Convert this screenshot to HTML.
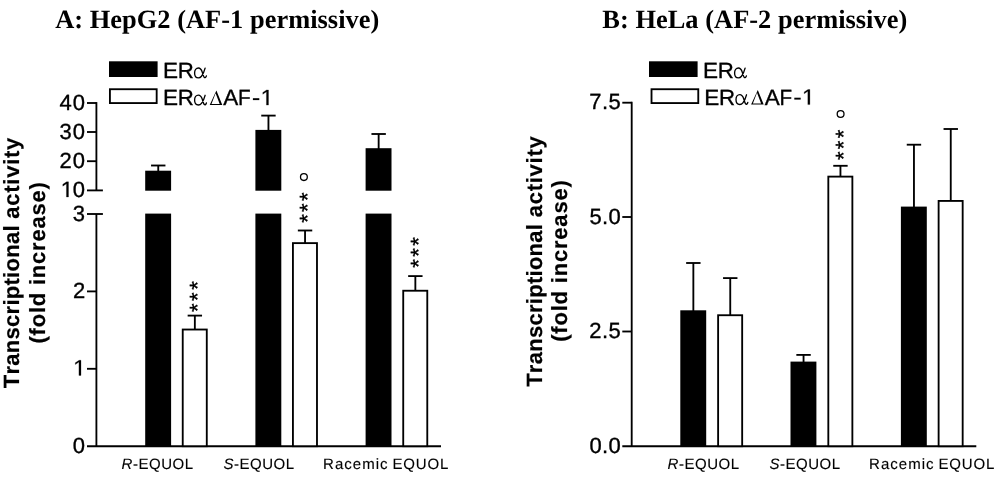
<!DOCTYPE html>
<html><head><meta charset="utf-8"><title>Transcriptional activity of equol enantiomers</title>
<style>
html,body{margin:0;padding:0;background:#fff;}
body{width:1000px;height:478px;overflow:hidden;font-family:"Liberation Sans",sans-serif;}
svg{display:block;will-change:transform;filter:grayscale(1);}
text{fill:#000;font-kerning:none;font-variant-ligatures:none;text-rendering:geometricPrecision;}
</style></head>
<body>
<svg width="1000" height="478" viewBox="0 0 1000 478">
<rect x="0" y="0" width="1000" height="478" fill="#fff"/>
<text x="55.14" y="27.50" font-size="26.4" letter-spacing="0.039"><tspan font-family='"Liberation Serif", serif' font-weight="bold" font-style="normal">A: HepG2 (AF-1 permissive)</tspan></text>
<rect x="109.00" y="61.30" width="48.60" height="15.70" fill="#000"/>
<rect x="109.92" y="89.22" width="46.75" height="13.85" fill="#fff" stroke="#000" stroke-width="1.85"/>
<text transform="translate(162.95,78.00) scale(1.0232,1.0)" font-size="22"><tspan font-family='"Liberation Sans", sans-serif' font-weight="normal" font-style="normal" stroke="#000" stroke-width="0.35">E</tspan></text>
<text transform="translate(177.68,78.00) scale(1.0105,1.0)" font-size="22"><tspan font-family='"Liberation Sans", sans-serif' font-weight="normal" font-style="normal" stroke="#000" stroke-width="0.35">R</tspan></text>
<path transform="translate(164.80,78.00)" d="M40.3,-9.8 C39.5,-6.8 38.2,-3.5 36.7,-1.7 C35.6,-0.4 34.5,-0.1 33.6,-0.1 C31.2,-0.1 29.8,-2.3 29.8,-5.1 C29.8,-7.9 31.4,-10.0 33.6,-10.0 C35.5,-10.0 36.6,-8.5 37.5,-5.8 C38.2,-3.5 38.7,-1.4 39.5,-0.6 C40.2,0.0 41.1,-0.4 41.6,-2.1" fill="none" stroke="#000" stroke-width="1.35" stroke-linecap="round" stroke-linejoin="round"/>
<text transform="translate(162.95,105.10) scale(1.0232,1.0)" font-size="22"><tspan font-family='"Liberation Sans", sans-serif' font-weight="normal" font-style="normal" stroke="#000" stroke-width="0.35">E</tspan></text>
<text transform="translate(177.68,105.10) scale(1.0105,1.0)" font-size="22"><tspan font-family='"Liberation Sans", sans-serif' font-weight="normal" font-style="normal" stroke="#000" stroke-width="0.35">R</tspan></text>
<path transform="translate(164.80,105.10)" d="M40.3,-9.8 C39.5,-6.8 38.2,-3.5 36.7,-1.7 C35.6,-0.4 34.5,-0.1 33.6,-0.1 C31.2,-0.1 29.8,-2.3 29.8,-5.1 C29.8,-7.9 31.4,-10.0 33.6,-10.0 C35.5,-10.0 36.6,-8.5 37.5,-5.8 C38.2,-3.5 38.7,-1.4 39.5,-0.6 C40.2,0.0 41.1,-0.4 41.6,-2.1" fill="none" stroke="#000" stroke-width="1.35" stroke-linecap="round" stroke-linejoin="round"/>
<path d="M209.70,105.10 L216.40,90.50 L222.30,105.10 Z M211.50,104.00 L219.70,104.00 L215.60,93.20 Z" fill="#000" fill-rule="evenodd"/>
<text transform="translate(223.36,105.10) scale(1.0214,1.0)" font-size="22"><tspan font-family='"Liberation Sans", sans-serif' font-weight="normal" font-style="normal" stroke="#000" stroke-width="0.35">A</tspan></text>
<text transform="translate(238.10,105.10) scale(0.9393,1.0)" font-size="22"><tspan font-family='"Liberation Sans", sans-serif' font-weight="normal" font-style="normal" stroke="#000" stroke-width="0.35">F</tspan></text>
<rect x="252.90" y="98.20" width="6.40" height="1.90" fill="#000"/>
<path transform="translate(260.57,105.10) scale(0.01139,-0.01074)" d="M515,0 L515,1237 L197,1010 L197,1180 L530,1409 L696,1409 L696,0 Z" fill="#000" stroke="#000" stroke-width="0.25" vector-effect="non-scaling-stroke"/>
<line x1="96.40" y1="102.08" x2="96.40" y2="190.40" stroke="#000" stroke-width="1.85"/>
<line x1="87.00" y1="103.00" x2="96.40" y2="103.00" stroke="#000" stroke-width="1.85"/>
<text x="59.49" y="109.60" font-size="22" letter-spacing="1.000"><tspan font-family='"Liberation Sans", sans-serif' font-weight="normal" font-style="normal" stroke="#000" stroke-width="0.35">40</tspan></text>
<line x1="87.00" y1="132.00" x2="96.40" y2="132.00" stroke="#000" stroke-width="1.85"/>
<text x="59.49" y="138.60" font-size="22" letter-spacing="1.000"><tspan font-family='"Liberation Sans", sans-serif' font-weight="normal" font-style="normal" stroke="#000" stroke-width="0.35">30</tspan></text>
<line x1="87.00" y1="161.20" x2="96.40" y2="161.20" stroke="#000" stroke-width="1.85"/>
<text x="59.49" y="167.80" font-size="22" letter-spacing="1.000"><tspan font-family='"Liberation Sans", sans-serif' font-weight="normal" font-style="normal" stroke="#000" stroke-width="0.35">20</tspan></text>
<line x1="87.00" y1="190.40" x2="102.90" y2="190.40" stroke="#000" stroke-width="1.85"/>
<path transform="translate(60.57,197.00) scale(0.01139,-0.01074)" d="M515,0 L515,1237 L197,1010 L197,1180 L530,1409 L696,1409 L696,0 Z" fill="#000" stroke="#000" stroke-width="0.25" vector-effect="non-scaling-stroke"/>
<text x="72.72" y="197.00" font-size="22" letter-spacing="1.000"><tspan font-family='"Liberation Sans", sans-serif' font-weight="normal" font-style="normal" stroke="#000" stroke-width="0.35">0</tspan></text>
<line x1="96.40" y1="214.00" x2="96.40" y2="446.20" stroke="#000" stroke-width="1.85"/>
<line x1="87.00" y1="214.00" x2="102.90" y2="214.00" stroke="#000" stroke-width="1.85"/>
<text x="72.83" y="220.60" font-size="22" letter-spacing="1.000"><tspan font-family='"Liberation Sans", sans-serif' font-weight="normal" font-style="normal" stroke="#000" stroke-width="0.35">3</tspan></text>
<line x1="87.00" y1="291.40" x2="96.40" y2="291.40" stroke="#000" stroke-width="1.85"/>
<text x="72.97" y="298.00" font-size="22" letter-spacing="1.000"><tspan font-family='"Liberation Sans", sans-serif' font-weight="normal" font-style="normal" stroke="#000" stroke-width="0.35">2</tspan></text>
<line x1="87.00" y1="368.80" x2="96.40" y2="368.80" stroke="#000" stroke-width="1.85"/>
<path transform="translate(73.07,375.40) scale(0.01139,-0.01074)" d="M515,0 L515,1237 L197,1010 L197,1180 L530,1409 L696,1409 L696,0 Z" fill="#000" stroke="#000" stroke-width="0.25" vector-effect="non-scaling-stroke"/>
<text x="72.72" y="452.80" font-size="22" letter-spacing="1.000"><tspan font-family='"Liberation Sans", sans-serif' font-weight="normal" font-style="normal" stroke="#000" stroke-width="0.35">0</tspan></text>
<line x1="87.00" y1="446.20" x2="441.00" y2="446.20" stroke="#000" stroke-width="1.85"/>
<line x1="158.25" y1="165.50" x2="158.25" y2="171.70" stroke="#000" stroke-width="1.85"/>
<line x1="151.05" y1="165.50" x2="165.45" y2="165.50" stroke="#000" stroke-width="1.85"/>
<rect x="145.20" y="170.70" width="25.90" height="20.00" fill="#000"/>
<rect x="145.20" y="213.60" width="25.90" height="232.60" fill="#000"/>
<line x1="268.45" y1="115.60" x2="268.45" y2="130.90" stroke="#000" stroke-width="1.85"/>
<line x1="261.25" y1="115.60" x2="275.65" y2="115.60" stroke="#000" stroke-width="1.85"/>
<rect x="255.40" y="129.90" width="25.90" height="60.80" fill="#000"/>
<rect x="255.40" y="213.60" width="25.90" height="232.60" fill="#000"/>
<line x1="378.65" y1="134.00" x2="378.65" y2="149.20" stroke="#000" stroke-width="1.85"/>
<line x1="371.45" y1="134.00" x2="385.85" y2="134.00" stroke="#000" stroke-width="1.85"/>
<rect x="365.60" y="148.20" width="25.90" height="42.50" fill="#000"/>
<rect x="365.60" y="213.60" width="25.90" height="232.60" fill="#000"/>
<line x1="194.85" y1="315.60" x2="194.85" y2="329.60" stroke="#000" stroke-width="1.85"/>
<line x1="187.65" y1="315.60" x2="202.05" y2="315.60" stroke="#000" stroke-width="1.85"/>
<rect x="182.73" y="329.53" width="24.05" height="116.67" fill="#fff" stroke="#000" stroke-width="1.85"/>
<line x1="305.05" y1="230.50" x2="305.05" y2="243.20" stroke="#000" stroke-width="1.85"/>
<line x1="297.85" y1="230.50" x2="312.25" y2="230.50" stroke="#000" stroke-width="1.85"/>
<rect x="292.93" y="243.12" width="24.05" height="203.08" fill="#fff" stroke="#000" stroke-width="1.85"/>
<line x1="415.35" y1="276.10" x2="415.35" y2="290.80" stroke="#000" stroke-width="1.85"/>
<line x1="408.15" y1="276.10" x2="422.55" y2="276.10" stroke="#000" stroke-width="1.85"/>
<rect x="403.23" y="290.73" width="24.05" height="155.47" fill="#fff" stroke="#000" stroke-width="1.85"/>
<text transform="translate(194.00,285.40) rotate(-90)" x="-4.29" y="11.27" font-size="22"><tspan font-family='"Liberation Sans", sans-serif' font-weight="normal" font-style="normal" stroke="#000" stroke-width="0.35">*</tspan></text>
<text transform="translate(194.00,296.60) rotate(-90)" x="-4.29" y="11.27" font-size="22"><tspan font-family='"Liberation Sans", sans-serif' font-weight="normal" font-style="normal" stroke="#000" stroke-width="0.35">*</tspan></text>
<text transform="translate(194.00,307.80) rotate(-90)" x="-4.29" y="11.27" font-size="22"><tspan font-family='"Liberation Sans", sans-serif' font-weight="normal" font-style="normal" stroke="#000" stroke-width="0.35">*</tspan></text>
<text transform="translate(303.40,196.70) rotate(-90)" x="-4.29" y="11.27" font-size="22"><tspan font-family='"Liberation Sans", sans-serif' font-weight="normal" font-style="normal" stroke="#000" stroke-width="0.35">*</tspan></text>
<text transform="translate(303.40,207.70) rotate(-90)" x="-4.29" y="11.27" font-size="22"><tspan font-family='"Liberation Sans", sans-serif' font-weight="normal" font-style="normal" stroke="#000" stroke-width="0.35">*</tspan></text>
<text transform="translate(303.40,218.50) rotate(-90)" x="-4.29" y="11.27" font-size="22"><tspan font-family='"Liberation Sans", sans-serif' font-weight="normal" font-style="normal" stroke="#000" stroke-width="0.35">*</tspan></text>
<text transform="translate(414.40,241.40) rotate(-90)" x="-4.29" y="11.27" font-size="22"><tspan font-family='"Liberation Sans", sans-serif' font-weight="normal" font-style="normal" stroke="#000" stroke-width="0.35">*</tspan></text>
<text transform="translate(414.40,252.50) rotate(-90)" x="-4.29" y="11.27" font-size="22"><tspan font-family='"Liberation Sans", sans-serif' font-weight="normal" font-style="normal" stroke="#000" stroke-width="0.35">*</tspan></text>
<text transform="translate(414.40,263.40) rotate(-90)" x="-4.29" y="11.27" font-size="22"><tspan font-family='"Liberation Sans", sans-serif' font-weight="normal" font-style="normal" stroke="#000" stroke-width="0.35">*</tspan></text>
<circle cx="303.9" cy="177.1" r="3.4" fill="none" stroke="#000" stroke-width="1.3"/>
<text x="121.54" y="469.10" font-size="15" letter-spacing="0.536"><tspan font-family='"Liberation Sans", sans-serif' font-weight="normal" font-style="italic" stroke="#000" stroke-width="0.12">R</tspan><tspan font-family='"Liberation Sans", sans-serif' font-weight="normal" font-style="normal" stroke="#000" stroke-width="0.12">-EQUOL</tspan></text>
<text x="223.48" y="469.10" font-size="15" letter-spacing="0.518"><tspan font-family='"Liberation Sans", sans-serif' font-weight="normal" font-style="italic" stroke="#000" stroke-width="0.12">S</tspan><tspan font-family='"Liberation Sans", sans-serif' font-weight="normal" font-style="normal" stroke="#000" stroke-width="0.12">-EQUOL</tspan></text>
<text x="323.07" y="469.10" font-size="15" letter-spacing="1.030"><tspan font-family='"Liberation Sans", sans-serif' font-weight="normal" font-style="normal" stroke="#000" stroke-width="0.12">Racemic</tspan></text>
<text x="392.47" y="469.10" font-size="15" letter-spacing="0.853"><tspan font-family='"Liberation Sans", sans-serif' font-weight="normal" font-style="normal" stroke="#000" stroke-width="0.12">EQUOL</tspan></text>
<text transform="translate(19.30,388.25) rotate(-90)" font-size="22" letter-spacing="0.277"><tspan font-family='"Liberation Sans", sans-serif' font-weight="bold" font-style="normal" stroke="#000" stroke-width="0.2">Transcriptional</tspan></text>
<text transform="translate(19.30,218.74) rotate(-90)" font-size="22" letter-spacing="0.749"><tspan font-family='"Liberation Sans", sans-serif' font-weight="bold" font-style="normal" stroke="#000" stroke-width="0.2">activity</tspan></text>
<text transform="translate(44.60,343.50) rotate(-90)" font-size="22" letter-spacing="0.780"><tspan font-family='"Liberation Sans", sans-serif' font-weight="bold" font-style="normal" stroke="#000" stroke-width="0.2">(fold increase)</tspan></text>
<text x="602.36" y="27.50" font-size="26.4" letter-spacing="0.030"><tspan font-family='"Liberation Serif", serif' font-weight="bold" font-style="normal">B: HeLa (AF-2 permissive)</tspan></text>
<rect x="649.00" y="61.30" width="48.60" height="15.70" fill="#000"/>
<rect x="651.52" y="89.22" width="46.75" height="13.85" fill="#fff" stroke="#000" stroke-width="1.85"/>
<text transform="translate(702.95,78.00) scale(1.0232,1.0)" font-size="22"><tspan font-family='"Liberation Sans", sans-serif' font-weight="normal" font-style="normal" stroke="#000" stroke-width="0.35">E</tspan></text>
<text transform="translate(717.68,78.00) scale(1.0105,1.0)" font-size="22"><tspan font-family='"Liberation Sans", sans-serif' font-weight="normal" font-style="normal" stroke="#000" stroke-width="0.35">R</tspan></text>
<path transform="translate(704.80,78.00)" d="M40.3,-9.8 C39.5,-6.8 38.2,-3.5 36.7,-1.7 C35.6,-0.4 34.5,-0.1 33.6,-0.1 C31.2,-0.1 29.8,-2.3 29.8,-5.1 C29.8,-7.9 31.4,-10.0 33.6,-10.0 C35.5,-10.0 36.6,-8.5 37.5,-5.8 C38.2,-3.5 38.7,-1.4 39.5,-0.6 C40.2,0.0 41.1,-0.4 41.6,-2.1" fill="none" stroke="#000" stroke-width="1.35" stroke-linecap="round" stroke-linejoin="round"/>
<text transform="translate(704.35,104.60) scale(1.0232,1.0)" font-size="22"><tspan font-family='"Liberation Sans", sans-serif' font-weight="normal" font-style="normal" stroke="#000" stroke-width="0.35">E</tspan></text>
<text transform="translate(719.08,104.60) scale(1.0105,1.0)" font-size="22"><tspan font-family='"Liberation Sans", sans-serif' font-weight="normal" font-style="normal" stroke="#000" stroke-width="0.35">R</tspan></text>
<path transform="translate(706.20,104.60)" d="M40.3,-9.8 C39.5,-6.8 38.2,-3.5 36.7,-1.7 C35.6,-0.4 34.5,-0.1 33.6,-0.1 C31.2,-0.1 29.8,-2.3 29.8,-5.1 C29.8,-7.9 31.4,-10.0 33.6,-10.0 C35.5,-10.0 36.6,-8.5 37.5,-5.8 C38.2,-3.5 38.7,-1.4 39.5,-0.6 C40.2,0.0 41.1,-0.4 41.6,-2.1" fill="none" stroke="#000" stroke-width="1.35" stroke-linecap="round" stroke-linejoin="round"/>
<path d="M751.10,104.60 L757.80,90.00 L763.70,104.60 Z M752.90,103.50 L761.10,103.50 L757.00,92.70 Z" fill="#000" fill-rule="evenodd"/>
<text transform="translate(764.76,104.60) scale(1.0214,1.0)" font-size="22"><tspan font-family='"Liberation Sans", sans-serif' font-weight="normal" font-style="normal" stroke="#000" stroke-width="0.35">A</tspan></text>
<text transform="translate(779.50,104.60) scale(0.9393,1.0)" font-size="22"><tspan font-family='"Liberation Sans", sans-serif' font-weight="normal" font-style="normal" stroke="#000" stroke-width="0.35">F</tspan></text>
<rect x="794.30" y="97.70" width="6.40" height="1.90" fill="#000"/>
<path transform="translate(801.97,104.60) scale(0.01139,-0.01074)" d="M515,0 L515,1237 L197,1010 L197,1180 L530,1409 L696,1409 L696,0 Z" fill="#000" stroke="#000" stroke-width="0.25" vector-effect="non-scaling-stroke"/>
<line x1="631.70" y1="101.78" x2="631.70" y2="446.20" stroke="#000" stroke-width="1.85"/>
<line x1="622.30" y1="102.70" x2="631.70" y2="102.70" stroke="#000" stroke-width="1.85"/>
<text x="589.27" y="109.30" font-size="22" letter-spacing="0.484"><tspan font-family='"Liberation Sans", sans-serif' font-weight="normal" font-style="normal" stroke="#000" stroke-width="0.35">7.5</tspan></text>
<line x1="622.30" y1="217.00" x2="631.70" y2="217.00" stroke="#000" stroke-width="1.85"/>
<text x="589.52" y="223.60" font-size="22" letter-spacing="0.329"><tspan font-family='"Liberation Sans", sans-serif' font-weight="normal" font-style="normal" stroke="#000" stroke-width="0.35">5.0</tspan></text>
<line x1="622.30" y1="331.50" x2="631.70" y2="331.50" stroke="#000" stroke-width="1.85"/>
<text x="589.29" y="338.10" font-size="22" letter-spacing="0.474"><tspan font-family='"Liberation Sans", sans-serif' font-weight="normal" font-style="normal" stroke="#000" stroke-width="0.35">2.5</tspan></text>
<text x="589.54" y="452.80" font-size="22" letter-spacing="0.318"><tspan font-family='"Liberation Sans", sans-serif' font-weight="normal" font-style="normal" stroke="#000" stroke-width="0.35">0.0</tspan></text>
<line x1="622.30" y1="446.20" x2="976.30" y2="446.20" stroke="#000" stroke-width="1.85"/>
<line x1="693.35" y1="263.00" x2="693.35" y2="311.30" stroke="#000" stroke-width="1.85"/>
<line x1="686.15" y1="263.00" x2="700.55" y2="263.00" stroke="#000" stroke-width="1.85"/>
<rect x="680.30" y="310.30" width="25.90" height="135.90" fill="#000"/>
<line x1="803.55" y1="354.90" x2="803.55" y2="362.60" stroke="#000" stroke-width="1.85"/>
<line x1="796.35" y1="354.90" x2="810.75" y2="354.90" stroke="#000" stroke-width="1.85"/>
<rect x="790.50" y="361.60" width="25.90" height="84.60" fill="#000"/>
<line x1="913.95" y1="144.70" x2="913.95" y2="207.60" stroke="#000" stroke-width="1.85"/>
<line x1="906.75" y1="144.70" x2="921.15" y2="144.70" stroke="#000" stroke-width="1.85"/>
<rect x="900.90" y="206.60" width="25.90" height="239.60" fill="#000"/>
<line x1="730.25" y1="278.10" x2="730.25" y2="315.30" stroke="#000" stroke-width="1.85"/>
<line x1="723.05" y1="278.10" x2="737.45" y2="278.10" stroke="#000" stroke-width="1.85"/>
<rect x="718.12" y="315.23" width="24.05" height="130.97" fill="#fff" stroke="#000" stroke-width="1.85"/>
<line x1="840.45" y1="165.80" x2="840.45" y2="176.70" stroke="#000" stroke-width="1.85"/>
<line x1="833.25" y1="165.80" x2="847.65" y2="165.80" stroke="#000" stroke-width="1.85"/>
<rect x="828.32" y="176.62" width="24.05" height="269.57" fill="#fff" stroke="#000" stroke-width="1.85"/>
<line x1="950.75" y1="129.00" x2="950.75" y2="201.00" stroke="#000" stroke-width="1.85"/>
<line x1="943.55" y1="129.00" x2="957.95" y2="129.00" stroke="#000" stroke-width="1.85"/>
<rect x="938.62" y="200.93" width="24.05" height="245.28" fill="#fff" stroke="#000" stroke-width="1.85"/>
<text transform="translate(839.90,134.00) rotate(-90)" x="-4.29" y="11.27" font-size="22"><tspan font-family='"Liberation Sans", sans-serif' font-weight="normal" font-style="normal" stroke="#000" stroke-width="0.35">*</tspan></text>
<text transform="translate(839.90,144.90) rotate(-90)" x="-4.29" y="11.27" font-size="22"><tspan font-family='"Liberation Sans", sans-serif' font-weight="normal" font-style="normal" stroke="#000" stroke-width="0.35">*</tspan></text>
<text transform="translate(839.90,155.80) rotate(-90)" x="-4.29" y="11.27" font-size="22"><tspan font-family='"Liberation Sans", sans-serif' font-weight="normal" font-style="normal" stroke="#000" stroke-width="0.35">*</tspan></text>
<circle cx="840.6" cy="114.0" r="3.4" fill="none" stroke="#000" stroke-width="1.3"/>
<text x="667.54" y="469.10" font-size="15" letter-spacing="0.536"><tspan font-family='"Liberation Sans", sans-serif' font-weight="normal" font-style="italic" stroke="#000" stroke-width="0.12">R</tspan><tspan font-family='"Liberation Sans", sans-serif' font-weight="normal" font-style="normal" stroke="#000" stroke-width="0.12">-EQUOL</tspan></text>
<text x="769.48" y="469.10" font-size="15" letter-spacing="0.518"><tspan font-family='"Liberation Sans", sans-serif' font-weight="normal" font-style="italic" stroke="#000" stroke-width="0.12">S</tspan><tspan font-family='"Liberation Sans", sans-serif' font-weight="normal" font-style="normal" stroke="#000" stroke-width="0.12">-EQUOL</tspan></text>
<text x="869.07" y="469.10" font-size="15" letter-spacing="1.030"><tspan font-family='"Liberation Sans", sans-serif' font-weight="normal" font-style="normal" stroke="#000" stroke-width="0.12">Racemic</tspan></text>
<text x="938.47" y="469.10" font-size="15" letter-spacing="0.853"><tspan font-family='"Liberation Sans", sans-serif' font-weight="normal" font-style="normal" stroke="#000" stroke-width="0.12">EQUOL</tspan></text>
<text transform="translate(541.70,386.85) rotate(-90)" font-size="22" letter-spacing="0.277"><tspan font-family='"Liberation Sans", sans-serif' font-weight="bold" font-style="normal" stroke="#000" stroke-width="0.2">Transcriptional</tspan></text>
<text transform="translate(541.70,217.34) rotate(-90)" font-size="22" letter-spacing="0.749"><tspan font-family='"Liberation Sans", sans-serif' font-weight="bold" font-style="normal" stroke="#000" stroke-width="0.2">activity</tspan></text>
<text transform="translate(567.10,341.80) rotate(-90)" font-size="22" letter-spacing="0.802"><tspan font-family='"Liberation Sans", sans-serif' font-weight="bold" font-style="normal" stroke="#000" stroke-width="0.2">(fold increase)</tspan></text>
</svg>
</body></html>
